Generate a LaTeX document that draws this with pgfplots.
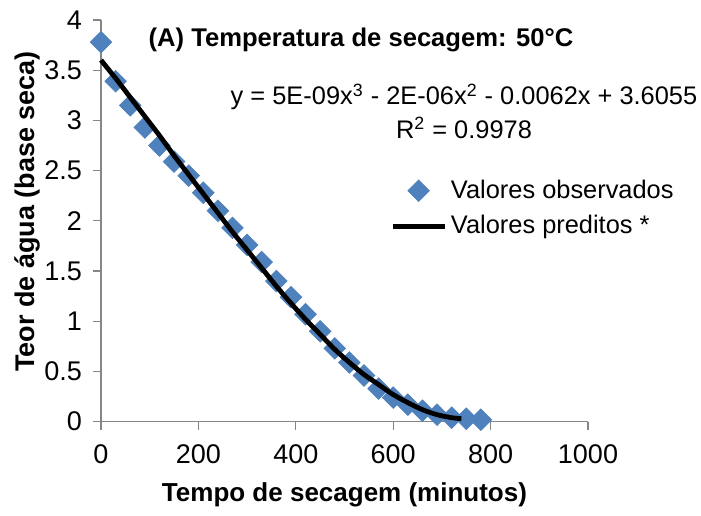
\documentclass[border=0pt]{standalone}
\usepackage{fontspec}
\setmainfont{Liberation Sans}
\usepackage{pgfplots}
\pgfplotsset{compat=1.18}
\definecolor{obsblue}{RGB}{79,129,189}
\definecolor{axgray}{RGB}{134,134,134}

\begin{document}
\begin{tikzpicture}
\begin{axis}[
    set layers,
    scale only axis, width=243.5pt, height=200.85pt,
    xmin=0, xmax=1000, ymin=0, ymax=4,
    xtick={0,200,400,600,800,1000},
    ytick={0,0.5,1,1.5,2,2.5,3,3.5,4},
    axis x line=bottom, axis y line=left,
    axis line style={-, draw=axgray, line width=0.6pt},
    tick style={draw=axgray, line width=0.6pt},
    tick align=outside, major tick length=4pt,
    /pgf/number format/assume math mode=true,
    /pgf/number format/1000 sep={},
    ticklabel style={font=\fontsize{13.5}{15}\selectfont},
    xticklabel style={yshift=-4pt},
    yticklabel style={xshift=-2pt},
    xlabel={Tempo de secagem (minutos)},
    ylabel={Teor de água (base seca)},
    label style={font=\bfseries\fontsize{13}{15}\selectfont},
    xlabel style={at={(axis description cs:0.5,-0.1825)}, anchor=center},
    ylabel style={at={(axis description cs:-0.150,0.523)}, anchor=center,
        font=\bfseries\fontsize{13.5}{15}\selectfont},
    clip=false,
    legend style={at={(axis cs:593,2.45)}, anchor=north west, draw=none, fill=none,
        font=\fontsize{12.7}{14}\selectfont, row sep=3pt, inner sep=0pt},
    legend cell align=left,
    legend image code/.code={\draw[mark repeat=2,mark phase=2,#1] plot coordinates {(0pt,0pt) (13pt,0pt) (26pt,0pt)};},
]
\addplot[only marks, mark=square*, mark size=3.8pt,
    mark options={rotate=45, fill=obsblue, draw=obsblue}] coordinates {
    (0,3.78) (30,3.39) (60,3.15) (90,2.93) (120,2.75) (150,2.59) (180,2.45)
    (210,2.28) (240,2.10) (270,1.93) (300,1.76) (330,1.59) (360,1.40)
    (390,1.24) (420,1.07) (450,0.90) (480,0.73) (510,0.59) (540,0.46)
    (570,0.33) (600,0.24) (630,0.17) (660,0.11) (690,0.07) (720,0.04)
    (750,0.03) (780,0.02)
};
\addlegendentry{Valores observados}
\addplot[black, line width=2.4pt, smooth, mark=none, on layer=axis foreground] coordinates {
    (0,3.60) (30,3.42) (60,3.23) (90,3.04) (120,2.85) (150,2.65) (180,2.46)
    (210,2.27) (240,2.08) (270,1.89) (300,1.71) (330,1.53) (360,1.35)
    (390,1.18) (420,1.02) (450,0.87) (480,0.72) (510,0.59) (540,0.47)
    (570,0.37) (600,0.27) (630,0.19) (660,0.12) (690,0.07) (720,0.04)
    (740,0.03)
};
\addlegendentry{Valores preditos *}
\coordinate (O) at (axis cs:0,0);
\end{axis}
\begin{scope}[shift={(O)}, x=0.5pt, y=-0.5pt]
  \node[font=\bfseries\fontsize{12.8}{14}\selectfont] at (260,-382)
      {(A) Temperatura de secagem: 50°C};
  \node[font=\fontsize{12.7}{14}\selectfont] at (363,-324.7)
      {y = 5E-09x\textsuperscript{3} - 2E-06x\textsuperscript{2} - 0.0062x + 3.6055};
  \node[font=\fontsize{12.7}{14}\selectfont] at (363,-294)
      {R\textsuperscript{2} = 0.9978};
  \pgfresetboundingbox
  \path[use as bounding box] (-101,93.3) rectangle (600,-421.7);
\end{scope}
\end{tikzpicture}
\end{document}
